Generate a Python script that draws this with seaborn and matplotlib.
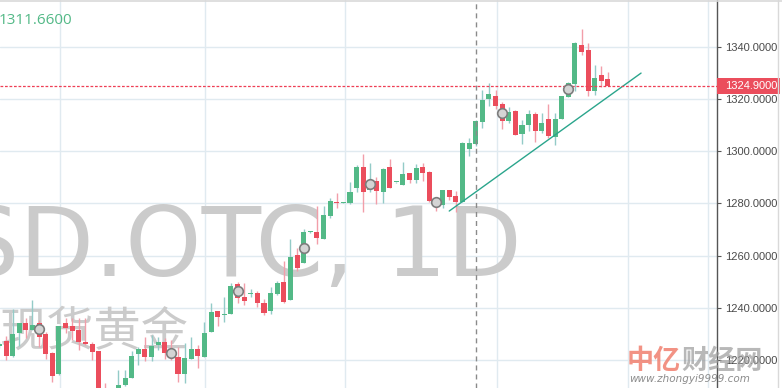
import matplotlib
matplotlib.use("Agg")
import matplotlib.pyplot as plt
import matplotlib.transforms as mtransforms
from matplotlib.patches import Rectangle
from matplotlib.lines import Line2D
import numpy as np
import pandas as pd
import seaborn as sns

# daily candles of spot gold (XAUUSD.OTC, 1D), oldest first
opens = [1225.4, 1227.3, 1221.5, 1230.3, 1234.2, 1231.5, 1234.2, 1230.0, 1222.7, 1214.6,
         1234.2, 1233.0, 1231.5, 1226.9, 1226.1, 1223.4, 1207.0, 1202.0, 1206.5, 1210.4,
         1213.1, 1222.3, 1224.2, 1221.1, 1225.7, 1226.9, 1223.8, 1221.1, 1214.6, 1220.4,
         1224.2, 1221.1, 1230.7, 1238.8, 1237.4, 1237.6, 1249.1, 1244.1, 1245.2, 1245.7,
         1241.8, 1238.8, 1245.3, 1249.9, 1243.0, 1260.2, 1257.2, 1268.9, 1269.1, 1266.4,
         1275.2, 1280.3, 1280.1, 1280.2, 1285.9, 1294.0, 1285.2, 1288.6, 1284.4, 1294.0,
         1288.1, 1287.1, 1291.7, 1289.0, 1294.0, 1292.1, 1281.3, 1279.4, 1285.2, 1282.9,
         1280.6, 1300.9, 1302.8, 1311.2, 1320.1, 1321.2, 1318.1, 1311.6, 1315.4, 1306.6,
         1310.1, 1314.3, 1307.8, 1312.4, 1305.5, 1312.4, 1320.8, 1325.8, 1340.8, 1338.8,
         1323.1, 1329.3, 1327.7]
highs = [1226.9, 1229.2, 1239.5, 1234.3, 1236.1, 1243.0, 1235.3, 1230.7, 1222.9, 1233.2,
         1236.1, 1236.1, 1236.1, 1236.1, 1226.9, 1223.6, 1211.2, 1208.0, 1216.1, 1216.1,
         1223.4, 1225.0, 1228.8, 1229.5, 1228.8, 1228.4, 1227.6, 1225.0, 1226.5, 1228.8,
         1225.7, 1234.5, 1241.8, 1238.9, 1244.1, 1249.5, 1249.9, 1249.5, 1247.2, 1246.4,
         1243.4, 1248.0, 1250.3, 1257.9, 1266.4, 1262.9, 1270.2, 1269.3, 1279.0, 1279.0,
         1282.1, 1284.0, 1280.5, 1288.2, 1294.8, 1299.0, 1295.5, 1290.1, 1293.6, 1297.0,
         1288.4, 1295.9, 1291.8, 1295.1, 1295.5, 1292.4, 1282.1, 1285.3, 1285.3, 1284.8,
         1303.4, 1305.1, 1312.0, 1323.5, 1326.2, 1323.5, 1318.9, 1317.0, 1315.8, 1312.0,
         1315.8, 1315.1, 1314.7, 1318.1, 1314.7, 1321.4, 1326.4, 1341.9, 1346.9, 1341.5,
         1333.1, 1332.7, 1330.4]
lows = [1224.6, 1220.0, 1221.2, 1225.3, 1228.4, 1231.3, 1225.0, 1220.4, 1211.5, 1214.4,
        1230.3, 1227.6, 1223.8, 1225.7, 1220.0, 1202.0, 1200.0, 1199.0, 1205.0, 1210.0,
        1213.0, 1218.0, 1219.6, 1219.6, 1223.8, 1220.4, 1220.0, 1211.5, 1211.2, 1220.3,
        1216.9, 1221.0, 1230.6, 1233.0, 1234.5, 1237.5, 1241.8, 1241.1, 1244.1, 1240.3,
        1237.2, 1237.6, 1244.9, 1241.8, 1242.8, 1254.1, 1257.0, 1268.8, 1264.5, 1266.3,
        1274.4, 1278.3, 1280.0, 1279.8, 1284.4, 1276.7, 1284.4, 1279.8, 1280.2, 1285.8,
        1288.0, 1287.0, 1287.9, 1287.9, 1288.6, 1280.6, 1277.1, 1278.3, 1281.3, 1276.7,
        1280.5, 1298.2, 1302.0, 1308.9, 1317.4, 1316.2, 1308.6, 1310.9, 1306.2, 1302.8,
        1307.8, 1303.6, 1307.0, 1305.1, 1302.4, 1312.3, 1320.7, 1323.1, 1336.9, 1321.2,
        1321.6, 1324.7, 1324.9]
closes = [1226.1, 1221.5, 1230.0, 1234.1, 1231.5, 1233.4, 1228.8, 1222.3, 1213.8, 1233.0,
          1232.3, 1231.1, 1226.9, 1226.1, 1223.1, 1204.0, 1203.0, 1206.0, 1210.4, 1213.1,
          1221.5, 1224.2, 1221.1, 1225.4, 1226.9, 1222.7, 1222.3, 1214.6, 1220.7, 1224.2,
          1221.5, 1230.3, 1238.4, 1236.5, 1237.8, 1248.3, 1243.7, 1242.6, 1245.4, 1241.8,
          1238.0, 1245.7, 1249.5, 1242.2, 1259.5, 1255.3, 1269.1, 1269.1, 1266.8, 1275.6,
          1281.0, 1280.1, 1280.3, 1284.4, 1294.0, 1284.4, 1289.0, 1284.8, 1293.2, 1285.9,
          1288.3, 1291.3, 1289.0, 1293.6, 1291.7, 1281.0, 1280.2, 1285.2, 1282.5, 1280.6,
          1303.2, 1303.2, 1311.66, 1319.7, 1322.0, 1317.4, 1311.6, 1315.1, 1306.3, 1310.1,
          1314.3, 1307.8, 1310.9, 1305.9, 1312.4, 1321.2, 1326.2, 1341.5, 1338.1, 1323.1,
          1328.1, 1327.0, 1324.9]

# grey dots every 10 bars
marker_idx = [6, 26, 36, 46, 56, 66, 76, 86]
marker_val = [1231.9, 1222.7, 1246.4, 1262.9, 1287.5, 1280.6, 1314.7, 1323.9]

# drawn trend line (bar index, price)
trend_x = [68.0, 97.0]
trend_y = [1277.1, 1330.0]

last_price = 1324.9
cursor_bar = 72
cursor_label = "1311.6600"
month_lines = [9.15, 31.1, 52.2, 75.2, 95.0, 107.1]
price_ticks = [1220, 1240, 1260, 1280, 1300, 1320, 1340]

UP, DOWN = "#53b987", "#eb4d5c"
UP_WICK, DOWN_WICK = "#93cbc7", "#f29ea9"
GRID = "#e0eaf0"

sns.set_theme(style="white")
plt.rcParams["font.family"] = ["DejaVu Sans", "Noto Sans CJK SC"]

fig = plt.figure(figsize=(7.82, 3.88), dpi=100)
ax = fig.add_axes([0, 0, 717 / 782, 1])
ax.set_facecolor("white")

df = pd.DataFrame({"open": opens, "high": highs, "low": lows, "close": closes})
df["idx"] = np.arange(len(df))
up = df["close"] >= df["open"]
body_low = df[["open", "close"]].min(axis=1)
body_h = (df["close"] - df["open"]).abs().clip(lower=0.4)

ax.vlines(df["idx"], df["low"], df["high"], colors=np.where(up, UP_WICK, DOWN_WICK),
          lw=1, zorder=2)
ax.bar(df["idx"], body_h, bottom=body_low, width=0.76,
       color=np.where(up, UP, DOWN), linewidth=0, zorder=3)

sns.scatterplot(x=marker_idx, y=marker_val, ax=ax, s=48, color="#d4d4d4",
                edgecolor="#7d7d7d", linewidth=1.2, zorder=5)
sns.lineplot(x=trend_x, y=trend_y, ax=ax, color="#2aa58c", lw=1, zorder=4)

ax.axhline(last_price, color="#ef3f55", lw=0.9, ls=(0, (2.2, 1.4)), zorder=4)
ax.axvline(cursor_bar, color="#8a8a8a", lw=1, ls=(0, (3.6, 2.9)), zorder=4)

ax.set_xlim(0.09, 108.48)
ax.set_ylim(1209.25, 1358.02)
ax.set_xticks(month_lines)
ax.set_yticks(price_ticks)
ax.set_yticklabels([f"{p:.4f}" for p in price_ticks], family="Liberation Sans")
ax.yaxis.tick_right()
ax.tick_params(axis="x", length=0, labelbottom=False)
ax.tick_params(axis="y", right=True, length=3, width=0.8, color="#555555",
               labelsize=8, labelcolor="#4a4a4a", pad=3)
ax.grid(True, color=GRID, lw=1)
ax.set_axisbelow(True)
for s in ["left", "top", "bottom"]:
    ax.spines[s].set_visible(False)
ax.spines["right"].set_color("#555555")
ax.spines["right"].set_linewidth(1)

# watermarks
ax.text(522 / 782, 1 - 276 / 388, "XAUUSD.OTC, 1D", transform=fig.transFigure,
        ha="right", va="baseline", fontsize=70, color="#cbcbcb", zorder=1)
ax.text(0, 1 - 333 / 388, "现货黄金", transform=fig.transFigure,
        ha="left", va="center", fontsize=34, color="#cbcbcb",
        family=["Noto Sans CJK SC"], zorder=1)

# hovered value
ax.text(-1 / 782, 1 - 21 / 388, cursor_label, transform=fig.transFigure,
        ha="left", va="center", fontsize=11, color=UP, family="Open Sans")

# last price tag on the scale
blend = mtransforms.blended_transform_factory(ax.transAxes, ax.transData)
ax.add_patch(Rectangle((1.0, last_price - 3.1), 63 / 717, 6.2, transform=blend,
                       facecolor="#eb4d5c", edgecolor="none", clip_on=False, zorder=6))
ax.text(1.0 + 8 / 717, last_price, f"{last_price:.4f}", transform=blend,
        ha="left", va="center", fontsize=8, color="white",
        family="Liberation Sans", zorder=7, clip_on=False)

# frame
fig.add_artist(Line2D([0, 1], [1 - 1 / 388] * 2, color="#d9d9d9", lw=1.2,
                      transform=fig.transFigure))
fig.add_artist(Line2D([777.5 / 782] * 2, [0, 1], color="#d9d9d9", lw=1,
                      transform=fig.transFigure))

# site logo
fig.text(627 / 782, 1 - 361 / 388, "中亿", ha="left", va="center", fontsize=19.5,
         color="#f07f6e", alpha=0.85, fontweight="bold", family=["Noto Sans CJK SC"])
fig.text(681 / 782, 1 - 361 / 388, "财经网", ha="left", va="center", fontsize=19.5,
         color="#9a9a9a", alpha=0.7, fontweight="bold", family=["Noto Sans CJK SC"])
fig.text(629 / 782, 1 - 379 / 388, "www.zhongyi9999.com", ha="left", va="center",
         fontsize=7.5, color="#8c8c8c", style="italic")

fig.savefig("out.png", dpi=100)
